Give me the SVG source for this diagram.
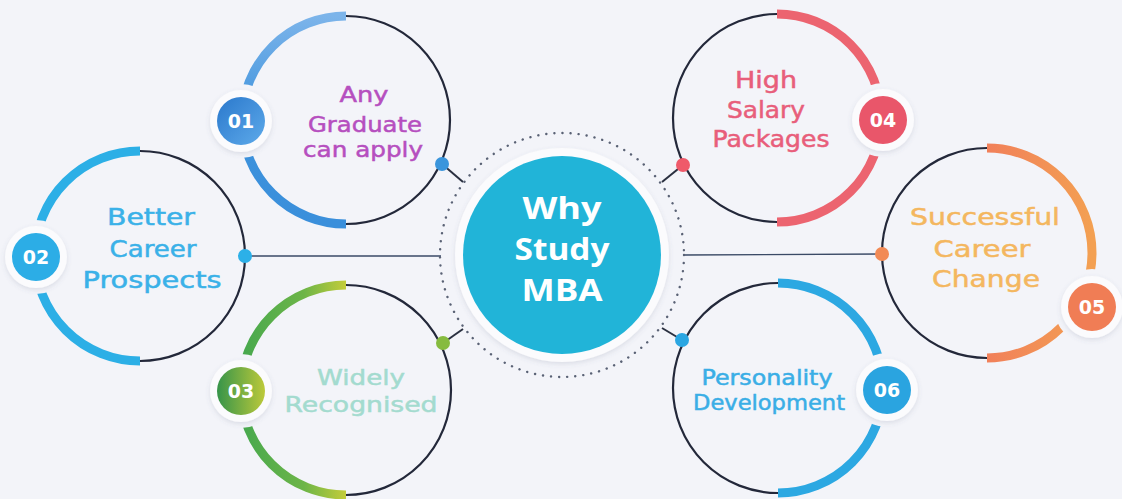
<svg xmlns="http://www.w3.org/2000/svg" width="1122" height="499" viewBox="0 0 1122 499">
<defs>
<style>
.thin{fill:none;stroke:#23283a;stroke-width:2.2}
.thick{fill:none;stroke-width:9}
.lbl{font-family:"DejaVu Sans","Liberation Sans",sans-serif;text-anchor:middle;stroke-width:0.5}
.num{font-family:"DejaVu Sans","Liberation Sans",sans-serif;font-weight:bold;font-size:19px;fill:#fff;text-anchor:middle}
.mask{fill:#f3f4f9}
.halo{fill:#fbfbfd;filter:url(#sh)}
.conn{stroke:#2a3040;stroke-width:2;fill:none}
</style>
<filter id="sh" x="-50%" y="-50%" width="200%" height="200%">
<feDropShadow dx="0" dy="2" stdDeviation="2.5" flood-color="#5a6080" flood-opacity="0.16"/>
</filter>
<linearGradient id="g1" x1="0" y1="0" x2="0" y2="1">
<stop offset="0" stop-color="#7cb4ea"/><stop offset="0.5" stop-color="#3d92dc"/><stop offset="1" stop-color="#3a8fdb"/>
</linearGradient>
<linearGradient id="b1" x1="0" y1="0" x2="1" y2="1">
<stop offset="0" stop-color="#2a78cc"/><stop offset="1" stop-color="#5eaaea"/>
</linearGradient>
<linearGradient id="g3" x1="0" y1="0" x2="1" y2="0">
<stop offset="0" stop-color="#46a84e"/><stop offset="0.6" stop-color="#6db548"/><stop offset="1" stop-color="#c3cc3a"/>
</linearGradient>
<linearGradient id="b3" x1="0" y1="0" x2="1" y2="0">
<stop offset="0" stop-color="#36944a"/><stop offset="1" stop-color="#bcc93a"/>
</linearGradient>
<linearGradient id="g5" x1="0" y1="0" x2="1" y2="0">
<stop offset="0" stop-color="#f1805a"/><stop offset="1" stop-color="#f3a052"/>
</linearGradient>
</defs>
<rect width="1122" height="499" fill="#f3f4f9"/>

<g id="connectors">
<line class="conn" x1="442" y1="164" x2="463" y2="182"/>
<line x1="246" y1="256" x2="441" y2="256" stroke="#3a4a66" stroke-width="1.3"/>
<line class="conn" x1="443" y1="343" x2="463" y2="329"/>
<line class="conn" x1="683" y1="165" x2="662" y2="182"/>
<line x1="882" y1="254" x2="684" y2="255" stroke="#3a4a66" stroke-width="1.3"/>
<line class="conn" x1="682" y1="340" x2="662" y2="328"/>
</g>

<g id="center">
<circle cx="562" cy="255" r="122" fill="none" stroke="#5a6275" stroke-width="2.4" stroke-dasharray="0.1 8" stroke-linecap="round"/>
<circle cx="562" cy="255" r="107" fill="#fbfbfd" filter="url(#sh)"/>
<circle cx="562" cy="255" r="99" fill="#21b4d8"/>
<g font-family="'Open Sans','DejaVu Sans',sans-serif" font-weight="bold" font-size="30" fill="#ffffff" text-anchor="middle">
<text x="562" y="219" textLength="79" lengthAdjust="spacingAndGlyphs">Why</text>
<text x="562" y="260" textLength="95" lengthAdjust="spacingAndGlyphs">Study</text>
<text x="562" y="301" textLength="81" lengthAdjust="spacingAndGlyphs">MBA</text>
</g>
</g>

<g id="node01">
<path class="thick" stroke="url(#g1)" d="M346,16 A104,104 0 0 0 346,224"/>
<path class="thin" d="M346,16 A104,104 0 0 1 346,224"/>
<circle class="mask" cx="241" cy="121" r="37"/>
<circle class="halo" cx="241" cy="121" r="31"/>
<circle cx="241" cy="121" r="24" fill="url(#b1)"/>
<text class="num" x="241" y="128">01</text>
<circle cx="442" cy="164" r="7" fill="#3a95dc"/>
<g class="lbl" font-size="21.5" fill="#b64fbf" stroke="#b64fbf">
<text x="364" y="102" textLength="49" lengthAdjust="spacingAndGlyphs">Any</text>
<text x="365" y="132" textLength="114" lengthAdjust="spacingAndGlyphs">Graduate</text>
<text x="363" y="157" textLength="120" lengthAdjust="spacingAndGlyphs">can apply</text>
</g>
</g>

<g id="node02">
<path class="thick" stroke="#2cafe6" d="M140,151 A105,105 0 0 0 140,361"/>
<path class="thin" d="M140,151 A105,105 0 0 1 140,361"/>
<circle class="mask" cx="36" cy="257" r="37"/>
<circle class="halo" cx="36" cy="257" r="31"/>
<circle cx="36" cy="257" r="24" fill="#2cade6"/>
<text class="num" x="36" y="264">02</text>
<circle cx="245" cy="256" r="7" fill="#2cb0e8"/>
<g class="lbl" font-size="23" fill="#3ab1e8" stroke="#3ab1e8">
<text x="151" y="225" textLength="88" lengthAdjust="spacingAndGlyphs">Better</text>
<text x="153" y="257" textLength="87" lengthAdjust="spacingAndGlyphs">Career</text>
<text x="152" y="288" textLength="139" lengthAdjust="spacingAndGlyphs">Prospects</text>
</g>
</g>

<g id="node03">
<path class="thick" stroke="url(#g3)" d="M346,285 A105,105 0 0 0 346,495"/>
<path class="thin" d="M346,285 A105,105 0 0 1 346,495"/>
<circle class="mask" cx="241" cy="391" r="37"/>
<circle class="halo" cx="241" cy="391" r="31"/>
<circle cx="241" cy="391" r="24" fill="url(#b3)"/>
<text class="num" x="241" y="398">03</text>
<circle cx="443" cy="343" r="7" fill="#86bb3f"/>
<g class="lbl" font-size="21.5" fill="#a3dbcf" stroke="#a3dbcf">
<text x="361" y="385" textLength="88" lengthAdjust="spacingAndGlyphs">Widely</text>
<text x="361" y="412" textLength="153" lengthAdjust="spacingAndGlyphs">Recognised</text>
</g>
</g>

<g id="node04">
<path class="thick" stroke="#ec6470" d="M777,14 A104,104 0 0 1 777,222"/>
<path class="thin" d="M777,14 A104,104 0 0 0 777,222"/>
<circle class="mask" cx="883" cy="120" r="37"/>
<circle class="halo" cx="883" cy="120" r="31"/>
<circle cx="883" cy="120" r="24" fill="#e9566a"/>
<text class="num" x="883" y="127">04</text>
<circle cx="683" cy="165" r="7" fill="#ef5a6a"/>
<g class="lbl" font-size="22.5" fill="#e85e7b" stroke="#e85e7b">
<text x="766" y="88" textLength="62" lengthAdjust="spacingAndGlyphs">High</text>
<text x="766" y="118" textLength="78" lengthAdjust="spacingAndGlyphs">Salary</text>
<text x="771" y="147" textLength="117" lengthAdjust="spacingAndGlyphs">Packages</text>
</g>
</g>

<g id="node05">
<path class="thick" stroke="url(#g5)" d="M987,148 A105,105 0 0 1 987,358"/>
<path class="thin" d="M987,148 A105,105 0 0 0 987,358"/>
<circle class="mask" cx="1092" cy="307" r="38"/>
<circle class="halo" cx="1092" cy="307" r="31"/>
<circle cx="1092" cy="307" r="24" fill="#f07d55"/>
<text class="num" x="1092" y="314">05</text>
<circle cx="882" cy="254" r="7" fill="#f28a55"/>
<g class="lbl" font-size="23.5" fill="#f4b75f" stroke="#f4b75f">
<text x="985" y="225" textLength="150" lengthAdjust="spacingAndGlyphs">Successful</text>
<text x="982" y="257" textLength="97" lengthAdjust="spacingAndGlyphs">Career</text>
<text x="986" y="287" textLength="108" lengthAdjust="spacingAndGlyphs">Change</text>
</g>
</g>

<g id="node06">
<path class="thick" stroke="#2ca8e2" d="M778,283 A105,105 0 0 1 778,493"/>
<path class="thin" d="M778,283 A105,105 0 0 0 778,493"/>
<circle class="mask" cx="887" cy="390" r="37"/>
<circle class="halo" cx="887" cy="390" r="31"/>
<circle cx="887" cy="390" r="24" fill="#2aa4e0"/>
<text class="num" x="887" y="397">06</text>
<circle cx="682" cy="340" r="7" fill="#2aa6e2"/>
<g class="lbl" font-size="20.5" fill="#3aaee6" stroke="#3aaee6">
<text x="767" y="385" textLength="131" lengthAdjust="spacingAndGlyphs">Personality</text>
<text x="769" y="410" textLength="152" lengthAdjust="spacingAndGlyphs">Development</text>
</g>
</g>
</svg>
